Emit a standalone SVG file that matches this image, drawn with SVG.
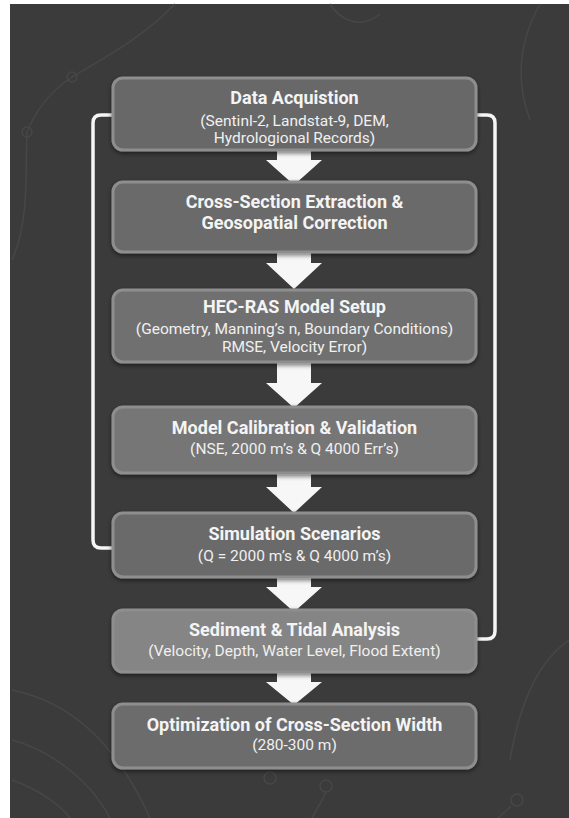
<svg xmlns="http://www.w3.org/2000/svg" width="569" height="818" viewBox="0 0 569 818">
  <defs>
    <style>
      .bg { fill: #3b3b3b; }
      .deco { fill: none; stroke: #474747; stroke-width: 1.5; }
      .box { stroke: #8e8e8e; stroke-width: 3; }
      .title { font-family: Roboto, "Liberation Sans", sans-serif; font-weight: 700; font-size: 18px; fill: #f4f4f4; text-anchor: middle; }
      .sub { font-family: Roboto, "Liberation Sans", sans-serif; font-weight: 400; font-size: 15.5px; fill: #f0f0f0; text-anchor: middle; }
      .loop { fill: none; stroke: #f5f5f5; stroke-width: 3.5; stroke-linejoin: round; }
      .arrow { fill: #f7f7f7; }
    </style>
    <filter id="shadow" x="-10%" y="-20%" width="120%" height="150%">
      <feDropShadow dx="0" dy="2" stdDeviation="2" flood-color="#000" flood-opacity="0.5"/>
    </filter>
  </defs>

  <!-- page -->
  <rect x="0" y="0" width="569" height="818" fill="#ffffff"/>
  <rect class="bg" x="10" y="4" width="559" height="814"/>

  <!-- faint contour lines in the backdrop -->
  <g id="backdrop">
    <path class="deco" d="M27 132 C40 100, 60 85, 72 77 C100 60, 140 40, 175 4"/>
    <path class="deco" d="M27 132 C25 170, 30 220, 12 260"/>
    <circle class="deco" cx="72" cy="77" r="5"/>
    <circle class="deco" cx="27" cy="132" r="5"/>
    <path class="deco" d="M330 4 C340 20, 360 30, 380 14"/>
    <path class="deco" d="M540 4 C520 40, 515 80, 530 120"/>
    <path class="deco" d="M12 690 C60 700, 110 730, 150 818"/>
    <path class="deco" d="M12 740 C50 750, 90 780, 110 818"/>
    <path class="deco" d="M12 780 C40 790, 60 805, 70 818"/>
    <circle class="deco" cx="270" cy="778" r="6"/>
    <circle class="deco" cx="326" cy="786" r="6"/>
    <path class="deco" d="M326 792 C320 805, 315 812, 312 818"/>
    <circle class="deco" cx="517" cy="800" r="6"/>
    <path class="deco" d="M511 806 C505 812, 500 816, 498 818"/>
    <path class="deco" d="M569 640 C540 660, 520 700, 510 760"/>
  </g>

  <!-- connectors: feedback loops and flow arrows -->
  <g id="connectors">
    <path class="loop" d="M113 548 H101 Q93 548 93 540 V123 Q93 115 101 115 H113"/>
    <path class="loop" d="M476 115 H487 Q495 115 495 123 V631 Q495 639 487 639 H476"/>
    <path class="arrow" d="M277 150 H311 V160 H322 L294 185 L266 160 H277 Z"/>
    <path class="arrow" d="M277 252 H311 V263 H322 L294 289 L266 263 H277 Z"/>
    <path class="arrow" d="M277 362 H311 V383 H322 L294 408 L266 383 H277 Z"/>
    <path class="arrow" d="M277 473 H311 V487 H322 L294 513 L266 487 H277 Z"/>
    <path class="arrow" d="M277 577 H311 V587 H322 L294 612 L266 587 H277 Z"/>
    <path class="arrow" d="M277 672 H311 V682 H322 L294 705 L266 682 H277 Z"/>
  </g>

  <g id="data-acquisition">
    <rect class="box" x="113" y="78" width="363" height="72" rx="10" fill="#676767" filter="url(#shadow)"/>
    <text class="title" x="294.5" y="104">Data Acquistion</text>
    <text class="sub" x="294.5" y="126">(Sentinl-2, Landstat-9, DEM,</text>
    <text class="sub" x="294.5" y="143">Hydrologional Records)</text>
  </g>

  <g id="cross-section-extraction">
    <rect class="box" x="113" y="182" width="363" height="70" rx="10" fill="#6b6b6b" filter="url(#shadow)"/>
    <text class="title" x="294.5" y="208">Cross-Section Extraction &amp;</text>
    <text class="title" x="294.5" y="229">Geosopatial Correction</text>
  </g>

  <g id="hec-ras-setup">
    <rect class="box" x="113" y="290" width="363" height="72" rx="10" fill="#707070" filter="url(#shadow)"/>
    <text class="title" x="294.5" y="313">HEC-RAS Model Setup</text>
    <text class="sub" x="294.5" y="334">(Geometry, Manning’s n, Boundary Conditions)</text>
    <text class="sub" x="294.5" y="352">RMSE, Velocity Error)</text>
  </g>

  <g id="calibration-validation">
    <rect class="box" x="113" y="407" width="363" height="66" rx="10" fill="#767676" filter="url(#shadow)"/>
    <text class="title" x="294.5" y="434">Model Calibration &amp; Validation</text>
    <text class="sub" x="294.5" y="454">(NSE, 2000 m’s &amp; Q 4000 Err’s)</text>
  </g>

  <g id="simulation-scenarios">
    <rect class="box" x="113" y="513" width="363" height="64" rx="10" fill="#6b6b6b" filter="url(#shadow)"/>
    <text class="title" x="294.5" y="540">Simulation Scenarios</text>
    <text class="sub" x="294.5" y="561">(Q = 2000 m’s &amp; Q 4000 m’s)</text>
  </g>

  <g id="sediment-tidal">
    <rect class="box" x="113" y="610" width="363" height="62" rx="10" fill="#858585" filter="url(#shadow)"/>
    <text class="title" x="294.5" y="636">Sediment &amp; Tidal Analysis</text>
    <text class="sub" x="294.5" y="656">(Velocity, Depth, Water Level, Flood Extent)</text>
  </g>

  <g id="width-optimization">
    <rect class="box" x="113" y="704" width="363" height="64" rx="10" fill="#6c6c6c" filter="url(#shadow)"/>
    <text class="title" x="294.5" y="731">Optimization of Cross-Section Width</text>
    <text class="sub" x="294.5" y="750">(280-300 m)</text>
  </g>
</svg>
